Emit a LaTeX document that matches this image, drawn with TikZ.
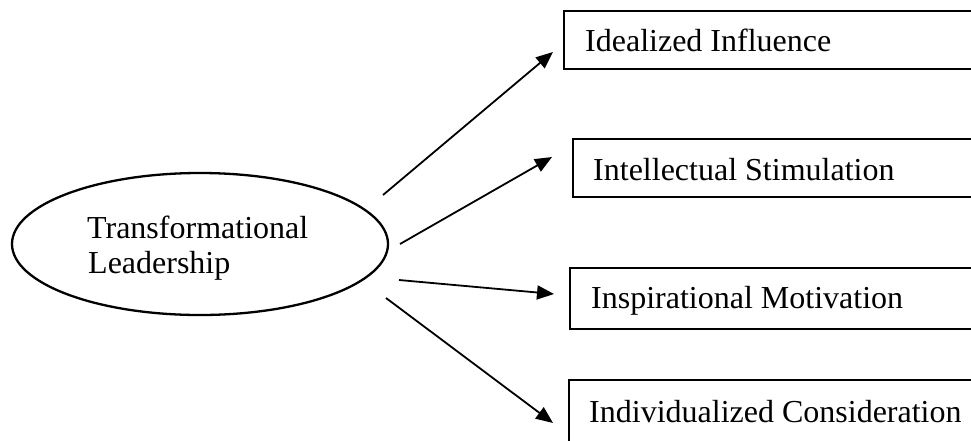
\documentclass[tikz,border=0pt]{standalone}
\usepackage{fontspec}
\setmainfont{Liberation Serif}
\usetikzlibrary{arrows.meta,shapes.geometric}

\tikzset{
  dimbox/.style={draw, line width=2.3pt, rectangle, inner sep=0pt, anchor=north west},
  lbl/.style={inner sep=0pt, anchor=base west, font=\fontsize{32}{35}\selectfont},
  oval/.style={draw, line width=2.3pt, ellipse, inner sep=0pt,
               minimum width=376pt, minimum height=142pt},
  link/.style={line width=1.8pt, -{Triangle[length=17pt,width=14pt]}}
}

\begin{document}
\begin{tikzpicture}[x=1pt,y=-1pt]
  \useasboundingbox (0,0) rectangle (971,440);
  \clip (0,0) rectangle (971,440);

  % central construct
  \node[oval] (tl) at (200,244) {};
  \node[lbl] (tl1) at (87,238) {Transformational};
  \node[lbl] (tl2) at (88,273) {Leadership};

  % dimension boxes (running off the right side)
  \node[dimbox, minimum width=430pt, minimum height=58pt] (ii) at (563,10) {};
  \node[lbl] (iit) at (585,51) {Idealized Influence};

  \node[dimbox, minimum width=430pt, minimum height=58pt] (is) at (572,138) {};
  \node[lbl] (ist) at (593,180) {Intellectual Stimulation};

  \node[dimbox, minimum width=430pt, minimum height=61pt] (im) at (569,267) {};
  \node[lbl] (imt) at (591,308) {Inspirational Motivation};

  \node[dimbox, minimum width=430pt, minimum height=80pt] (ic) at (568,379) {};
  \node[lbl] (ict) at (589,422) {Individualized Consideration};

  % arrow end points
  \coordinate (s1) at (383,195);
  \coordinate (e1) at (553,52);
  \coordinate (s2) at (400,244);
  \coordinate (e2) at (552,157);
  \coordinate (s3) at (399,280);
  \coordinate (e3) at (554,294);
  \coordinate (s4) at (386,298);
  \coordinate (e4) at (553,423);

  \draw[link] (s1) -- (e1);
  \draw[link] (s2) -- (e2);
  \draw[link] (s3) -- (e3);
  \draw[link] (s4) -- (e4);
\end{tikzpicture}
\end{document}
